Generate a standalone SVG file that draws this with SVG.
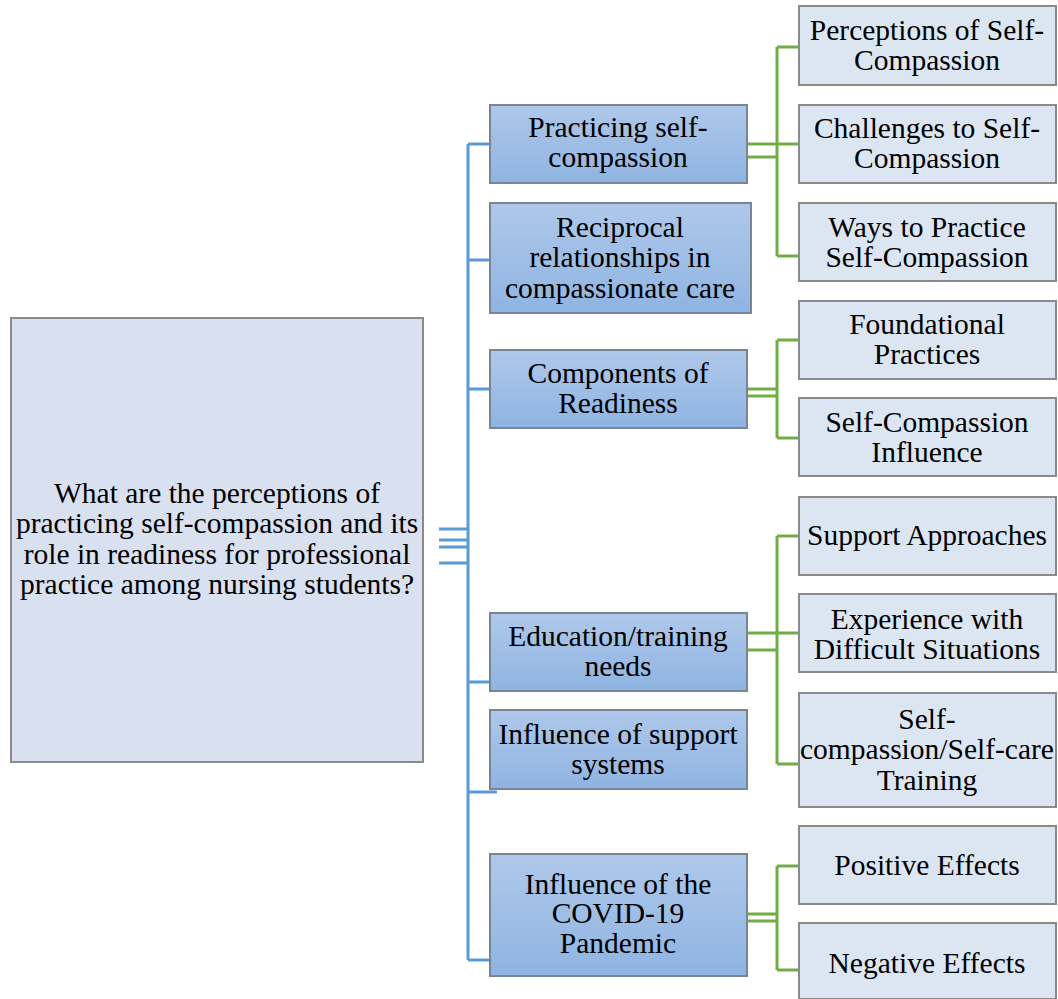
<svg xmlns="http://www.w3.org/2000/svg" width="1058" height="999" viewBox="0 0 1058 999">
<defs>
<linearGradient id="mg" x1="0" y1="0" x2="0" y2="1"><stop offset="0" stop-color="#aec8ea"/><stop offset="1" stop-color="#8fb4e2"/></linearGradient>
<style>
text{font-family:"Liberation Serif","Times New Roman",serif;font-size:29.5px;fill:#000;text-anchor:middle}
.root{fill:#d9e0f0;stroke:#8a8a8a;stroke-width:2}
.mid{fill:url(#mg);stroke:#7a8594;stroke-width:2}
.ch{fill:#dce6f2;stroke:#8a8a8a;stroke-width:2}
.b{stroke:#5b9bd5;stroke-width:3;fill:none}
.g{stroke:#70ad47;stroke-width:3;fill:none}
</style>
</defs>
<rect width="1058" height="999" fill="#fff"/>
<g id="connectors">
<path class="b" d="M468 144V960M439 529H468M439 540H468M439 547H468M439 563H468M468 144H490M468 260H490M468 389H490M468 682H490M468 792H497M468 960H490"/>
<path class="g" d="M747 144H799M747 157H777M777 47V256M777 47H799M777 256H799"/>
<path class="g" d="M747 389H777M747 396H777M777 340V438M777 340H799M777 438H799"/>
<path class="g" d="M747 633H799M747 650H777M777 536V764M777 536H799M777 764H799"/>
<path class="g" d="M747 914H777M747 921H777M777 866V970M777 866H799M777 970H799"/>
</g>
<g id="root"><rect class="root" x="11" y="318" width="412" height="444"/>
<text x="217" y="503">What are the perceptions of</text><text x="217" y="533">practicing self-compassion and its</text><text x="217" y="564">role in readiness for professional</text><text x="217" y="594">practice among nursing students?</text></g>
<g id="m1"><rect class="mid" x="490" y="105" width="257" height="78"/><text x="618" y="137">Practicing self-</text><text x="618" y="167">compassion</text></g>
<g id="m2"><rect class="mid" x="490" y="203" width="261" height="110"/><text x="620" y="237">Reciprocal</text><text x="620" y="267">relationships in</text><text x="620" y="298">compassionate care</text></g>
<g id="m3"><rect class="mid" x="490" y="350" width="257" height="78"/><text x="618" y="383">Components of</text><text x="618" y="413">Readiness</text></g>
<g id="m4"><rect class="mid" x="490" y="613" width="257" height="78"/><text x="618" y="646">Education/training</text><text x="618" y="676">needs</text></g>
<g id="m5"><rect class="mid" x="490" y="710" width="257" height="79"/><text x="618" y="744">Influence of support</text><text x="618" y="774">systems</text></g>
<g id="m6"><rect class="mid" x="490" y="854" width="257" height="122"/><text x="618" y="894">Influence of the</text><text x="618" y="923">COVID-19</text><text x="618" y="953">Pandemic</text></g>
<g id="c1"><rect class="ch" x="799" y="6" width="257" height="79"/><text x="927" y="40">Perceptions of Self-</text><text x="927" y="70">Compassion</text></g>
<g id="c2"><rect class="ch" x="799" y="105" width="257" height="78"/><text x="927" y="138">Challenges to Self-</text><text x="927" y="168">Compassion</text></g>
<g id="c3"><rect class="ch" x="799" y="203" width="257" height="78"/><text x="927" y="237">Ways to Practice</text><text x="927" y="267">Self-Compassion</text></g>
<g id="c4"><rect class="ch" x="799" y="301" width="257" height="78"/><text x="927" y="334">Foundational</text><text x="927" y="364">Practices</text></g>
<g id="c5"><rect class="ch" x="799" y="398" width="257" height="78"/><text x="927" y="432">Self-Compassion</text><text x="927" y="462">Influence</text></g>
<g id="c6"><rect class="ch" x="799" y="497" width="257" height="78"/><text x="927" y="545">Support Approaches</text></g>
<g id="c7"><rect class="ch" x="799" y="594" width="257" height="78"/><text x="927" y="629">Experience with</text><text x="927" y="659">Difficult Situations</text></g>
<g id="c8"><rect class="ch" x="799" y="693" width="257" height="114"/><text x="927" y="729">Self-</text><text x="927" y="759">compassion/Self-care</text><text x="927" y="790">Training</text></g>
<g id="c9"><rect class="ch" x="799" y="826" width="257" height="78"/><text x="927" y="875">Positive Effects</text></g>
<g id="c10"><rect class="ch" x="799" y="923" width="257" height="76"/><text x="927" y="973">Negative Effects</text></g>
</svg>
